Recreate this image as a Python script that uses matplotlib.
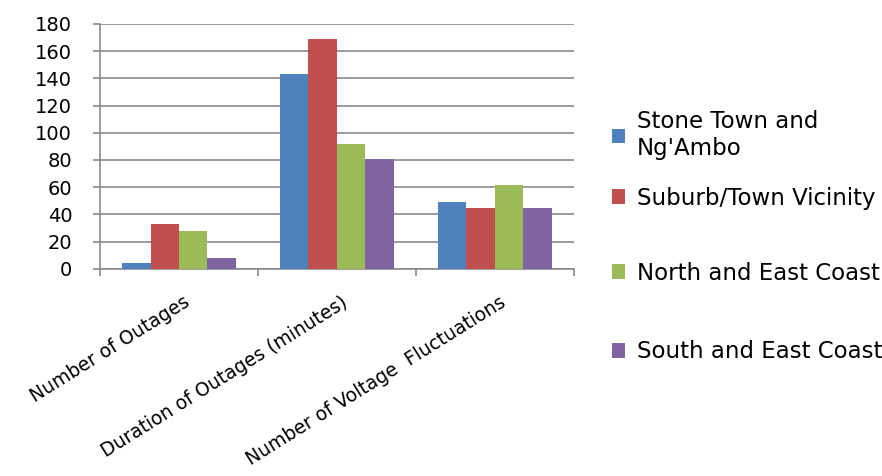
import numpy as np
import matplotlib.pyplot as plt
import matplotlib.transforms as mtransforms

plt.rcParams['font.family'] = ['DejaVu Sans']

# data
categories = ["Number of Outages", "Duration of Outages (minutes)", "Number of Voltage  Fluctuations"]
series_names = ["Stone Town and\nNg'Ambo", "Suburb/Town Vicinity", "North and East Coast", "South and East Coast"]
stone_town = [4, 143, 49]
suburb = [33, 169, 45]
north_east = [28, 92, 62]
south_east = [8, 81, 45]
colors = ["#4F81BD", "#C0504D", "#9BBB59", "#8064A2"]

values = [stone_town, suburb, north_east, south_east]

fig = plt.figure(figsize=(8.82, 4.76), dpi=100)
ax = fig.add_axes([0.1134, 0.435, 0.537, 0.515])

x = np.arange(len(categories))
w = 0.18
bars = []
for i, (vals, name, c) in enumerate(zip(values, series_names, colors)):
    b = ax.bar(x + (i - 1.5) * w, vals, width=w, color=c, label=name, zorder=3)
    bars.append(b)

ax.set_xlim(-0.5, len(categories) - 0.5)
ax.set_ylim(0, 180)
ax.set_yticks(np.arange(0, 181, 20))
ax.yaxis.grid(True, color="#8a8a8a", linewidth=1.2, zorder=0)

for s in ["top", "right"]:
    ax.spines[s].set_visible(False)
for s in ["left", "bottom"]:
    ax.spines[s].set_color("#8a8a8a")
    ax.spines[s].set_linewidth(1.2)

ax.tick_params(axis="y", direction="out", length=5, width=1.2, color="#8a8a8a",
               labelsize=14, pad=15)
ax.set_xticks(x)
ax.set_xticklabels(categories, rotation=32, ha="right", rotation_mode="anchor", fontsize=13.5)
ax.tick_params(axis="x", length=0, pad=17)
shift = mtransforms.ScaledTranslation(3 / 72, 0, fig.dpi_scale_trans)
for lab in ax.get_xticklabels():
    lab.set_transform(lab.get_transform() + shift)
ax.set_xticks(np.arange(-0.5, len(categories), 1), minor=True)
ax.tick_params(axis="x", which="minor", direction="out", length=5, width=1.2, color="#8a8a8a")

# legend, one entry per row as in the original layout
row_y = [135, 198, 273, 352]
for b, name, yy in zip(bars, series_names, row_y):
    leg = fig.legend([b], [name], loc="center left",
                     bbox_to_anchor=(612 / 882, 1 - yy / 476),
                     frameon=False, fontsize=16.5, borderpad=0, borderaxespad=0,
                     handlelength=0.58, handleheight=0.58, handletextpad=0.5)

plt.savefig("out.png", dpi=100)
